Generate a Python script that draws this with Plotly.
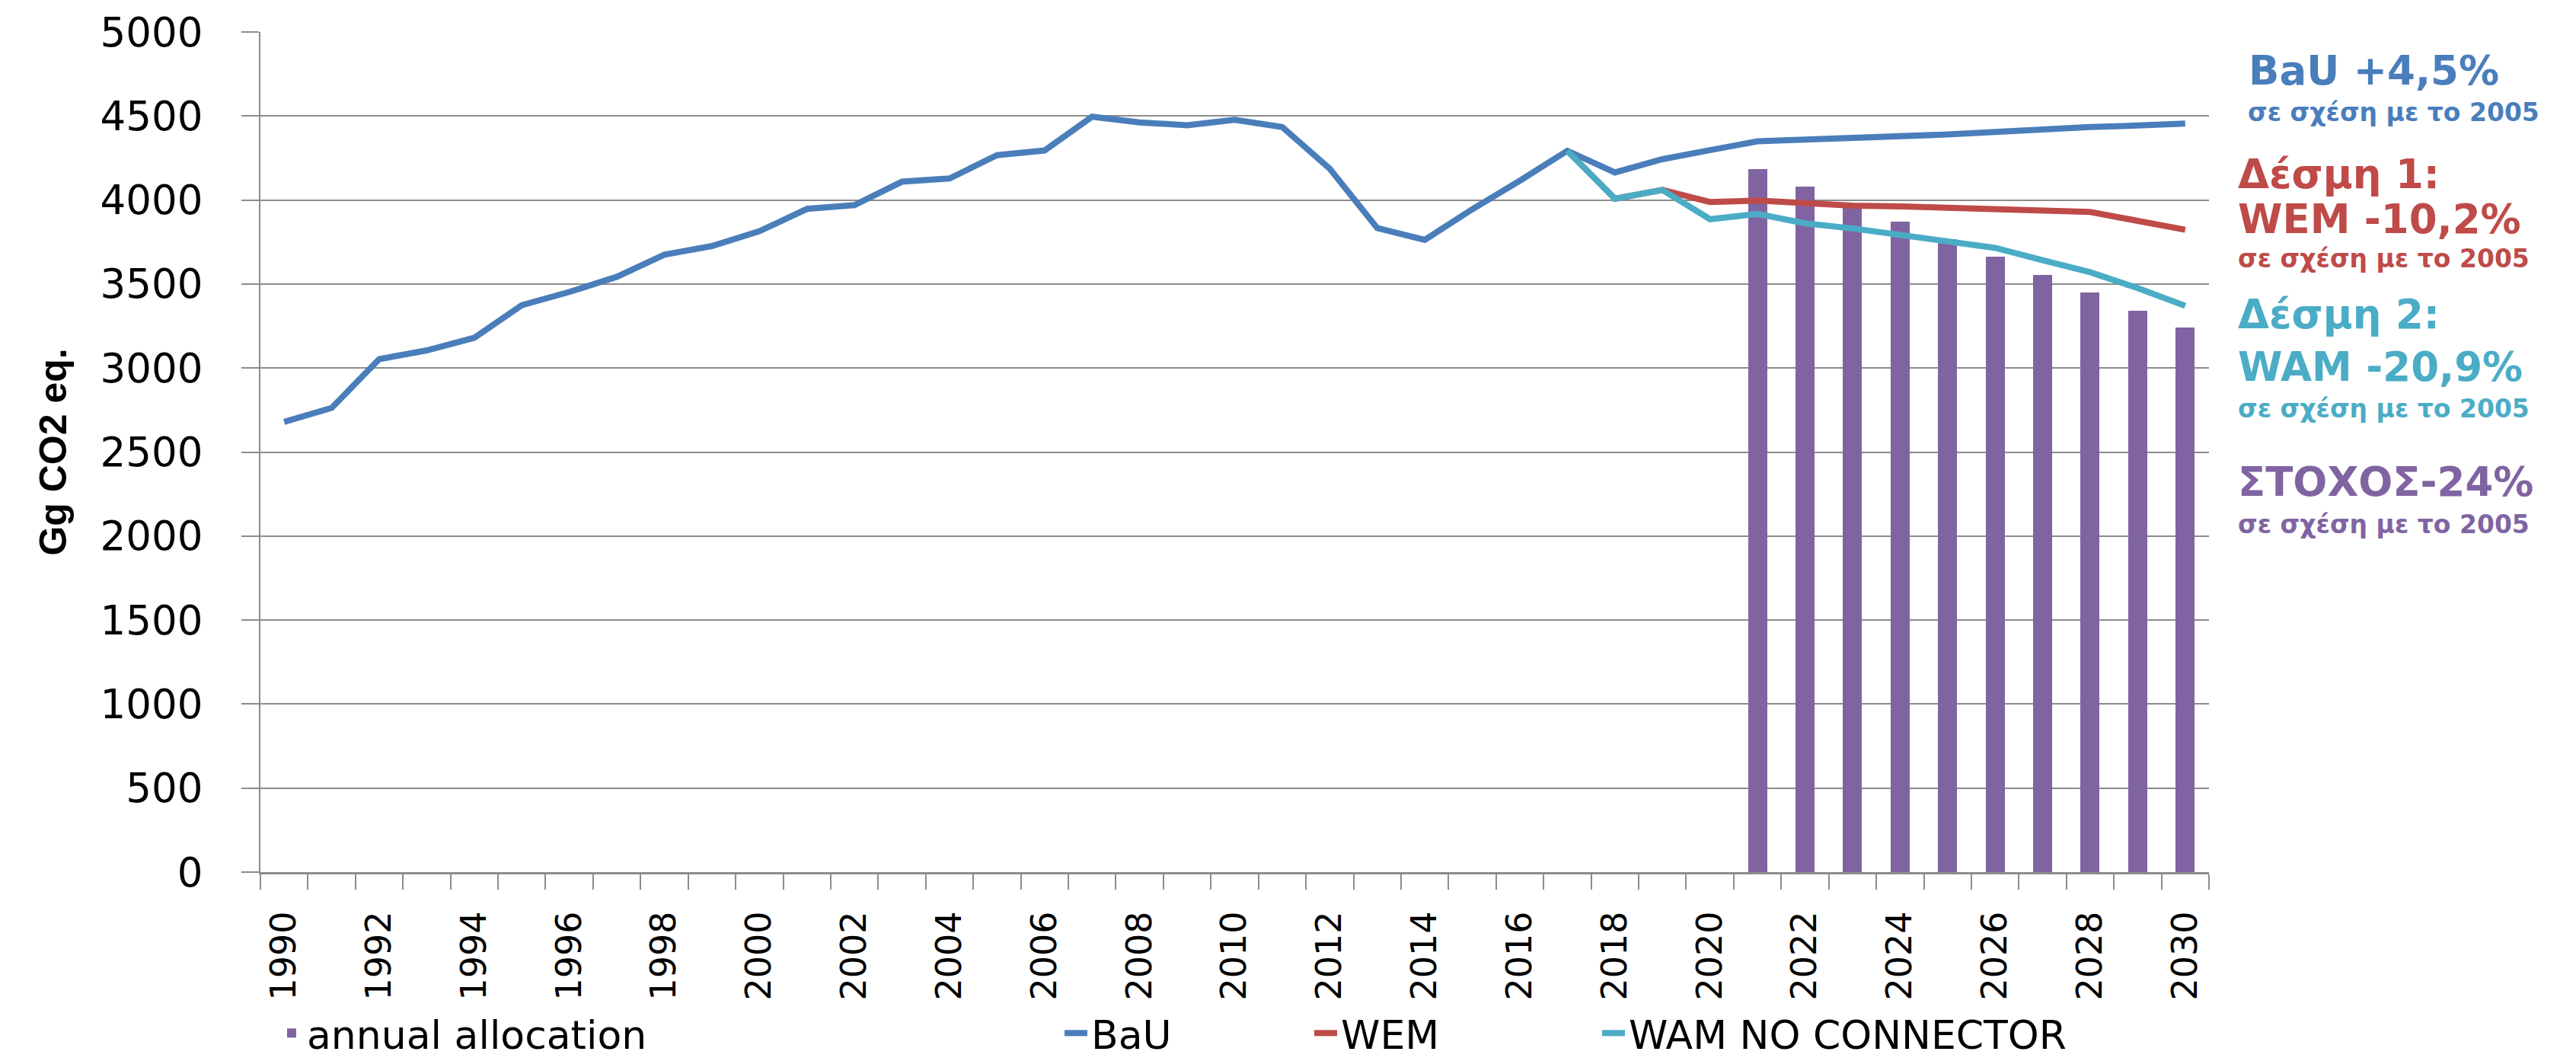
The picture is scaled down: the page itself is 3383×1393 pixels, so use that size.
import plotly.graph_objects as go

# ---- data ----
years = list(range(1990, 2031))
bau = [2680, 2763, 3053, 3105, 3180, 3374, 3453, 3543, 3675, 3726,
       3814, 3947, 3970, 4109, 4128, 4267, 4295, 4496, 4462, 4445,
       4477, 4434, 4186, 3833, 3763, 3945, 4115, 4293, 4164, 4243,
       4297, 4349, 4360, 4367, 4375, 4390, 4405, 4423, 4435, 4443, 4455]
proj_years = list(range(2017, 2031))
wem = [4293, 4008, 4060, 3988, 3997, 3982, 3966, 3962, 3955, 3947, 3944, 3929, 3876, 3823]
wam = [4293, 4008, 4060, 3886, 3917, 3861, 3831, 3793, 3755, 3715, 3642, 3570, 3476, 3370]
alloc_years = list(range(2021, 2031))
alloc = [4186, 4080, 3975, 3871, 3766, 3663, 3556, 3449, 3341, 3242]
tick_years = years[::2]
tick_text = [str(y) for y in tick_years]
boundaries = [y - 0.5 for y in years] + [years[-1] + 0.5]

C_BAU = "#4A7EBB"
C_WEM = "#BE4B48"
C_WAM = "#4BACC6"
C_BAR = "#8064A2"
GRID = "#8C8C8C"

fig = go.Figure()
fig.add_trace(go.Bar(x=alloc_years, y=alloc, width=0.4, name="annual allocation",
                     marker=dict(color=C_BAR, line=dict(width=0)), legend="legend"))
fig.add_trace(go.Scatter(x=years, y=bau, mode="lines", name="BaU",
                         line=dict(color=C_BAU, width=8), legend="legend2"))
fig.add_trace(go.Scatter(x=proj_years, y=wem, mode="lines", name="WEM",
                         line=dict(color=C_WEM, width=8), legend="legend3"))
fig.add_trace(go.Scatter(x=proj_years, y=wam, mode="lines", name="WAM NO CONNECTOR",
                         line=dict(color=C_WAM, width=8), legend="legend4"))

W, H = 3383, 1393
L, R, T, B = 334, 490, 34, 256
PW, PH = W - L - R, H - T - B

def px2x(px):
    return (px - L) / PW
def py2y(py):
    return (T + PH - py) / PH

leg_font = dict(family="DejaVu Sans", size=52, color="black")
def leg(xpx):
    return dict(x=px2x(xpx), xref="paper", xanchor="left",
                y=py2y(1308), yref="paper", yanchor="top",
                bgcolor="rgba(0,0,0,0)", font=leg_font, orientation="h")

fig.update_layout(
    width=W, height=H,
    margin=dict(l=L, r=R, t=T, b=B, autoexpand=False),
    paper_bgcolor="white", plot_bgcolor="white",
    showlegend=True,
    legend=leg(355), legend2=leg(1385), legend3=leg(1713), legend4=leg(2091),
    bargap=0,
)

fig.update_xaxes(
    range=[1989.5, 2030.5], tickmode="array", tickvals=tick_years, ticktext=tick_text,
    tickangle=-90, tickfont=dict(family="DejaVu Sans", size=46, color="black"),
    ticks="outside", ticklen=20, tickcolor="rgba(0,0,0,0)", ticklabelstandoff=10,
    minor=dict(tickmode="array", tickvals=boundaries, ticks="outside", ticklen=20,
               tickwidth=2, tickcolor=GRID, showgrid=False),
    showgrid=False, showline=True, linecolor=GRID, linewidth=3, zeroline=False,
)
fig.update_yaxes(
    range=[0, 5000], dtick=500, tick0=0,
    tickfont=dict(family="DejaVu Sans", size=53, color="black"),
    ticks="outside", ticklen=23, tickwidth=2, tickcolor=GRID, ticklabelstandoff=40,
    showgrid=True, gridcolor=GRID, gridwidth=2,
    showline=True, linecolor=GRID, linewidth=2, zeroline=False,
    title=dict(text="<b>Gg CO2 eq.</b>", standoff=28,
               font=dict(family="Liberation Sans", size=50, color="black")),
)

notes = [
    ("BaU +4,5%", 2943, 85, 53, C_BAU),
    ("σε σχέση με το 2005", 2942, 140, 33, C_BAU),
    ("Δέσμη 1:", 2929, 221, 53, C_WEM),
    ("WEM -10,2%", 2929, 279, 53, C_WEM),
    ("σε σχέση με το 2005", 2929, 331, 33, C_WEM),
    ("Δέσμη 2:", 2929, 404, 53, C_WAM),
    ("WAM -20,9%", 2929, 473, 53, C_WAM),
    ("σε σχέση με το 2005", 2929, 528, 33, C_WAM),
    ("ΣΤΟΧΟΣ-24%", 2929, 624, 53, C_BAR),
    ("σε σχέση με το 2005", 2929, 680, 33, C_BAR),
]
for text, xp, yp, size, col in notes:
    fig.add_annotation(text="<b>" + text + "</b>", x=px2x(xp), y=py2y(yp),
                       xref="paper", yref="paper", xanchor="left", yanchor="middle",
                       showarrow=False, font=dict(family="DejaVu Sans", size=size, color=col))

fig.write_html("out.html")
